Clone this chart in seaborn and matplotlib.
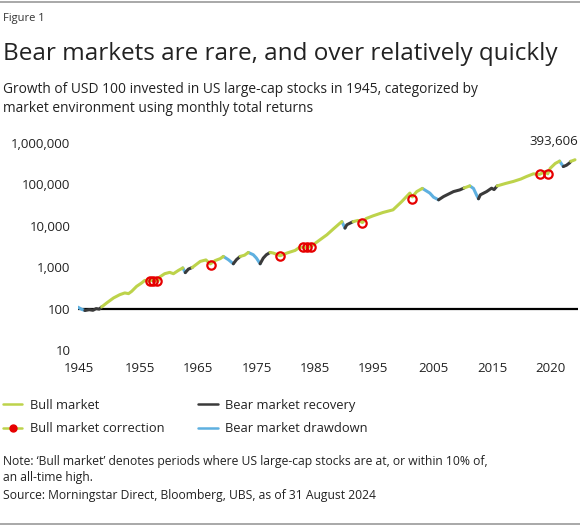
import numpy as np
import pandas as pd
import matplotlib
matplotlib.use("Agg")
import matplotlib.pyplot as plt
from matplotlib.lines import Line2D
import seaborn as sns

# ---------------- data ----------------
years = [1945.0, 1945.6, 1946.1, 1946.8, 1947.4, 1947.9, 1948.4, 1948.8, 1949.6, 1950.7,
         1951.7, 1952.5, 1953.1, 1953.6, 1954.4, 1955.2, 1955.7, 1956.5, 1957.3, 1957.8,
         1958.1, 1958.9, 1959.7, 1960.3, 1961.1, 1961.8, 1962.2, 1962.7, 1963.3, 1964.6,
         1965.5, 1966.2, 1967.0, 1967.8, 1968.3, 1969.1, 1969.9, 1970.4, 1971.0, 1971.7,
         1972.3, 1973.1, 1973.6, 1974.2, 1974.7, 1975.2, 1975.8, 1976.3, 1977.4, 1978.5,
         1979.8, 1980.6, 1981.4, 1982.3, 1982.7, 1983.8, 1984.9, 1985.9, 1987.0, 1987.3,
         1987.8, 1988.1, 1989.1, 1989.9, 1990.6, 1991.2, 1992.3, 1993.9, 1995.5, 1996.9,
         1998.2, 1998.6, 1999.3, 2000.2, 2001.4, 2002.0, 2002.8, 2003.6, 2005.2, 2006.2,
         2006.9, 2007.8, 2008.4, 2008.9, 2009.2, 2009.5, 2010.5, 2011.3, 2011.7, 2012.2,
         2013.5, 2014.8, 2016.0, 2016.9, 2018.0, 2019.0, 2019.9, 2020.3, 2020.7, 2021.5,
         2022.2, 2022.8, 2023.3, 2023.8, 2024.0, 2024.67]
values = [108, 96, 90, 94, 91, 100, 97, 110, 137, 181,
          217, 239, 230, 261, 345, 416, 480, 465, 500, 455,
          580, 697, 750, 697, 837, 960, 740, 900, 980, 1380,
          1500, 1200, 1450, 1610, 1820, 1520, 1210, 1520, 1820, 1950,
          2270, 2000, 1660, 1210, 1660, 2000, 2270, 2200, 1890, 2200,
          2540, 3070, 3000, 3100, 3480, 4600, 6070, 8300, 11600, 12600,
          8800, 10600, 12600, 13500, 12000, 15000, 17400, 21000, 24300, 38500,
          61700, 50000, 67000, 80000, 61700, 49000, 42400, 50900, 67100, 73600,
          82000, 92000, 80000, 55000, 45000, 56000, 67000, 81000, 75000, 92000,
          105000, 118000, 135000, 155000, 180000, 175000, 205000, 180000, 245000, 320000,
          365000, 270000, 290000, 330000, 360000, 393606]
# market phase of the stretch that starts at each point
DD, RC, BU = "Bear market drawdown", "Bear market recovery", "Bull market"
phases = ([DD] * 2 + [RC] * 5 + [BU] * 18
          + [DD] * 1 + [RC] * 2 + [BU] * 6
          + [DD] * 2 + [RC] * 2 + [BU] * 2
          + [DD] * 3 + [RC] * 3 + [BU] * 13
          + [DD] * 1 + [RC] * 2 + [BU] * 11
          + [DD] * 3 + [RC] * 4 + [BU] * 1
          + [DD] * 3 + [RC] * 5 + [BU] * 11
          + [DD] * 1 + [RC] * 3 + [BU] * 2)

corr_years = [1956.5, 1957.0, 1957.6, 1966.3, 1977.4, 1981.0, 1981.7, 1982.3, 1990.6, 1998.6, 2019.0, 2020.3]
corr_values = [470, 455, 460, 1150, 1890, 3100, 3000, 3100, 12000, 44000, 177000, 177000]

ytick_vals = [10, 100, 1000, 10000, 100000, 1000000]
xtick_labels = ["1945", "1955", "1965", "1975", "1985", "1995", "2005", "2015", "2020"]

# ---------------- build segments ----------------
rows = []
seg = 0
s = 0
n = len(years)
for i in range(1, n):
    if i == n - 1 or phases[i] != phases[s]:
        for j in range(s, i + 1):
            rows.append((years[j], values[j], phases[s], seg))
        seg += 1
        s = i
df = pd.DataFrame(rows, columns=["year", "value", "phase", "seg"])

# ---------------- style ----------------
W, H = 580, 527
GREEN = "#bdd34b"
BLUE = "#5eb0e0"
DARK = "#3a3a3a"
RED = "#e60000"
TXT = "#222222"
palette = {BU: GREEN, DD: BLUE, RC: DARK}

sns.set_theme(style="white")
plt.rcParams["font.family"] = ["Open Sans", "DejaVu Sans"]
plt.rcParams["text.color"] = TXT

fig = plt.figure(figsize=(W / 100, H / 100), dpi=100)
fig.patch.set_facecolor("white")

def fy(py):
    return 1 - py / H

ax = fig.add_axes([78 / W, 1 - 350 / H, 500 / W, 207 / H])
ax.set_facecolor("white")

ax.axhline(100, color="black", lw=1.6, zorder=1)
sns.lineplot(data=df, x="year", y="value", hue="phase", units="seg", estimator=None,
             palette=palette, linewidth=2.2, legend=False, sort=False, ax=ax, zorder=2)
ax.plot(corr_years, corr_values, linestyle="none", marker="o", ms=6, mfc="none",
        mec=RED, mew=1.6, zorder=3)

ax.set_yscale("log")
ax.set_ylim(10, 1000000)
ax.set_xlim(1945, 1945 + 500 / 6.238)
ax.set_yticks(ytick_vals)
ax.set_yticklabels([f"{v:,}" for v in ytick_vals])
ax.yaxis.set_minor_locator(matplotlib.ticker.NullLocator())
xtick_pos = [1945 + (px - 78) / 6.238 for px in (79, 140, 198, 257, 315, 373, 433, 492, 550)]
ax.set_xticks(xtick_pos)
ax.set_xticklabels(xtick_labels)
ax.tick_params(axis="y", length=0, pad=5.5, labelsize=9.5, labelcolor=TXT)
ax.tick_params(axis="x", length=0, pad=8.5, labelsize=9.5, labelcolor=TXT)
ax.set_xlabel("")
ax.set_ylabel("")
for sp in ax.spines.values():
    sp.set_visible(False)
ax.grid(False)

ax.annotate(f"{values[-1]:,}", xy=(years[-1], values[-1]), xytext=(3, 12),
            textcoords="offset pixels", ha="right", va="bottom", fontsize=9.5, color=TXT)

# ---------------- texts ----------------
fig.add_artist(Line2D([0, 1], [fy(2), fy(2)], color="#9a9a9a", lw=1.2))
fig.add_artist(Line2D([0, 1], [fy(524), fy(524)], color="#9a9a9a", lw=1.2))
fig.text(3 / W, fy(18), "Figure 1", fontsize=8, va="center", ha="left", color="#333333")
fig.text(3 / W, fy(54), "Bear markets are rare, and over relatively quickly",
         fontsize=17.5, va="center", ha="left", color=TXT)
fig.text(3 / W, fy(89), "Growth of USD 100 invested in US large-cap stocks in 1945, categorized by",
         fontsize=9.95, va="center", ha="left", color=TXT)
fig.text(3 / W, fy(108), "market environment using monthly total returns",
         fontsize=9.95, va="center", ha="left", color=TXT)

handles = [
    Line2D([], [], color=GREEN, lw=1.8),
    Line2D([], [], color=GREEN, lw=1.8, marker="o", ms=5, mfc=RED, mec=RED),
    Line2D([], [], color=DARK, lw=1.8),
    Line2D([], [], color=BLUE, lw=1.8),
]
labels = [BU, "Bull market correction", RC, DD]
fig.legend(handles, labels, loc="upper left", bbox_to_anchor=(3 / W, fy(399)), ncol=2,
           frameon=False, fontsize=9.3, handlelength=1.5, handletextpad=0.6,
           columnspacing=2.6, labelspacing=0.8, borderaxespad=0, borderpad=0)

note = ["Note: \u2018Bull market\u2019 denotes periods where US large-cap stocks are at, or within 10% of,",
        "an all-time high.",
        "Source: Morningstar Direct, Bloomberg, UBS, as of 31 August 2024"]
for k, line in enumerate(note):
    fig.text(3 / W, fy(461 + 17 * k), line, fontsize=8.75, va="center", ha="left", color=TXT)

fig.savefig("out.png", dpi=100, facecolor="white")
